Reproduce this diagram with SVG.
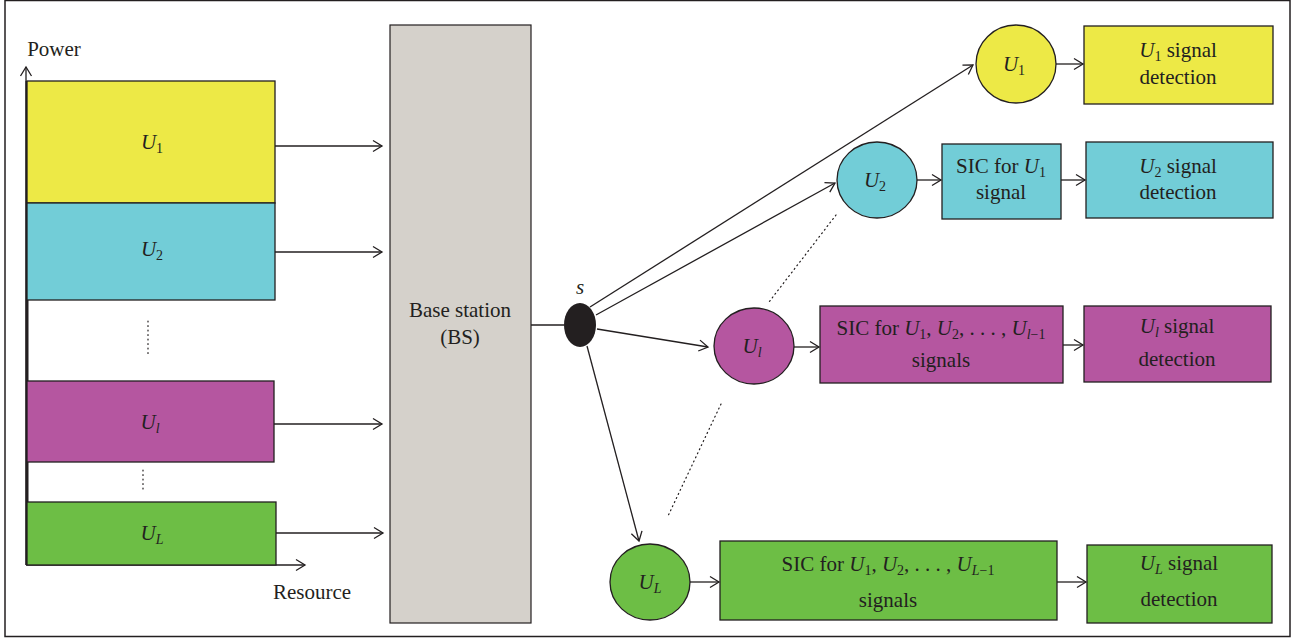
<svg xmlns="http://www.w3.org/2000/svg" width="1296" height="641" viewBox="0 0 1296 641">
<defs>
<marker id="ah" markerWidth="14" markerHeight="14" refX="12" refY="7" orient="auto" markerUnits="userSpaceOnUse">
<path d="M3,1.5 L12,7 L3,12.5" fill="none" stroke="#231f20" stroke-width="1.3"/>
</marker>
<style>
text{font-family:"Liberation Serif","Times New Roman",serif;font-size:21px;fill:#231f20;text-anchor:middle}
.i{font-style:italic}
.s{font-size:14px}
.box{stroke:#231f20;stroke-width:1.3}
.y{fill:#ede946}.c{fill:#72cdd7}.m{fill:#b556a0}.g{fill:#6dbe45}
.ln{stroke:#231f20;stroke-width:1.3;fill:none}
.ar{stroke:#231f20;stroke-width:1.3;fill:none;marker-end:url(#ah)}
.dot{stroke:#231f20;stroke-width:1.2;stroke-dasharray:1 3.5;stroke-linecap:round;fill:none}
</style>
</defs>
<rect x="0" y="0" width="1296" height="641" fill="#fff"/>
<rect x="5" y="0.5" width="1285" height="636" fill="none" stroke="#231f20" stroke-width="1.5"/>

<g id="axes">
<line x1="26" y1="565" x2="26" y2="67" class="ar" stroke-width="2"/>
<line x1="27" y1="81" x2="27" y2="565" stroke="#231f20" stroke-width="3"/>
<line x1="26" y1="565" x2="305" y2="565" class="ar"/>
<text x="54" y="56" font-size="20">Power</text>
<text x="312" y="599" font-size="20">Resource</text>
<line x1="148" y1="321" x2="148" y2="356" class="dot"/>
<line x1="143" y1="470" x2="143" y2="491" class="dot"/>
</g>

<g id="bar-U1"><rect x="27" y="81" width="248" height="122" class="box y"/><text x="152" y="149"><tspan class="i">U</tspan><tspan class="s" dy="4">1</tspan></text></g>
<g id="bar-U2"><rect x="27" y="203" width="248" height="97" class="box c"/><text x="152" y="256"><tspan class="i">U</tspan><tspan class="s" dy="4">2</tspan></text></g>
<g id="bar-Ul"><rect x="27" y="381" width="247" height="81" class="box m"/><text x="150" y="429"><tspan class="i">U</tspan><tspan class="s i" dy="4">l</tspan></text></g>
<g id="bar-UL"><rect x="27" y="502" width="249" height="63" class="box g"/><text x="152" y="540"><tspan class="i">U</tspan><tspan class="s i" dy="4">L</tspan></text></g>

<g id="bs"><rect x="390" y="25" width="141" height="598" fill="#d5d1cb" stroke="#231f20" stroke-width="1.2"/>
<text x="460" y="317">Base station</text><text x="460" y="344">(BS)</text></g>

<g id="s"><ellipse cx="580" cy="325" rx="16" ry="22" fill="#231f20"/><text x="580" y="294" class="i">s</text></g>

<g id="circle-U1"><ellipse cx="1016" cy="64" rx="40" ry="39" class="box y"/><text x="1014" y="71"><tspan class="i">U</tspan><tspan class="s" dy="4">1</tspan></text></g>
<g id="det-U1"><rect x="1084" y="26" width="189" height="78" class="box y"/><text x="1178" y="57"><tspan class="i">U</tspan><tspan class="s" dy="4">1</tspan><tspan dy="-4"> signal</tspan></text><text x="1178" y="84">detection</text></g>

<g id="circle-U2"><ellipse cx="877" cy="180" rx="40" ry="38" class="box c"/><text x="875" y="187"><tspan class="i">U</tspan><tspan class="s" dy="4">2</tspan></text></g>
<g id="sic-U2"><rect x="942" y="144" width="119" height="75" class="box c"/><text x="1001" y="173">SIC for <tspan class="i">U</tspan><tspan class="s" dy="4">1</tspan></text><text x="1001" y="199">signal</text></g>
<g id="det-U2"><rect x="1086" y="142" width="187" height="76" class="box c"/><text x="1178" y="173"><tspan class="i">U</tspan><tspan class="s" dy="4">2</tspan><tspan dy="-4"> signal</tspan></text><text x="1178" y="199">detection</text></g>

<g id="circle-Ul"><ellipse cx="754" cy="346" rx="40" ry="38" class="box m"/><text x="752" y="353"><tspan class="i">U</tspan><tspan class="s i" dy="4">l</tspan></text></g>
<g id="sic-Ul"><rect x="820" y="306" width="243" height="77" class="box m"/><text x="941" y="335">SIC for <tspan class="i">U</tspan><tspan class="s" dy="4">1</tspan><tspan dy="-4">, </tspan><tspan class="i">U</tspan><tspan class="s" dy="4">2</tspan><tspan dy="-4">, . . . , </tspan><tspan class="i">U</tspan><tspan class="s" dy="4"><tspan class="i">l</tspan>−1</tspan></text><text x="941" y="367">signals</text></g>
<g id="det-Ul"><rect x="1084" y="306" width="187" height="76" class="box m"/><text x="1177" y="333"><tspan class="i">U</tspan><tspan class="s i" dy="4">l</tspan><tspan dy="-4"> signal</tspan></text><text x="1177" y="366">detection</text></g>

<g id="circle-UL"><ellipse cx="650" cy="582" rx="40" ry="38" class="box g"/><text x="650" y="589"><tspan class="i">U</tspan><tspan class="s i" dy="4">L</tspan></text></g>
<g id="sic-UL"><rect x="720" y="541" width="337" height="79" class="box g"/><text x="888" y="571">SIC for <tspan class="i">U</tspan><tspan class="s" dy="4">1</tspan><tspan dy="-4">, </tspan><tspan class="i">U</tspan><tspan class="s" dy="4">2</tspan><tspan dy="-4">, . . . , </tspan><tspan class="i">U</tspan><tspan class="s" dy="4"><tspan class="i">L</tspan>−1</tspan></text><text x="888" y="607">signals</text></g>
<g id="det-UL"><rect x="1087" y="545" width="185" height="78" class="box g"/><text x="1179" y="570"><tspan class="i">U</tspan><tspan class="s i" dy="4">L</tspan><tspan dy="-4"> signal</tspan></text><text x="1179" y="606">detection</text></g>

<g id="connectors">
<line x1="275" y1="146" x2="382" y2="146" class="ar"/>
<line x1="275" y1="252" x2="382" y2="252" class="ar"/>
<line x1="274" y1="424" x2="382" y2="424" class="ar"/>
<line x1="276" y1="533" x2="383" y2="533" class="ar"/>
<line x1="531" y1="325" x2="564" y2="325" class="ln"/>
<line x1="590" y1="307" x2="973" y2="65" class="ar"/>
<line x1="596" y1="315" x2="835" y2="183" class="ar"/>
<line x1="597" y1="329" x2="708" y2="347" class="ar"/>
<line x1="587" y1="346" x2="639" y2="541" class="ar"/>
<line x1="1056" y1="64" x2="1083" y2="64" class="ar"/>
<line x1="917" y1="180" x2="941" y2="180" class="ar"/>
<line x1="1061" y1="180" x2="1085" y2="180" class="ar"/>
<line x1="794" y1="347" x2="819" y2="347" class="ar"/>
<line x1="1063" y1="345" x2="1083" y2="345" class="ar"/>
<line x1="690" y1="582" x2="719" y2="582" class="ar"/>
<line x1="1057" y1="582" x2="1086" y2="582" class="ar"/>
<line x1="836" y1="215" x2="769" y2="302" class="dot"/>
<line x1="721" y1="404" x2="668" y2="516" class="dot"/>
</g>
</svg>
